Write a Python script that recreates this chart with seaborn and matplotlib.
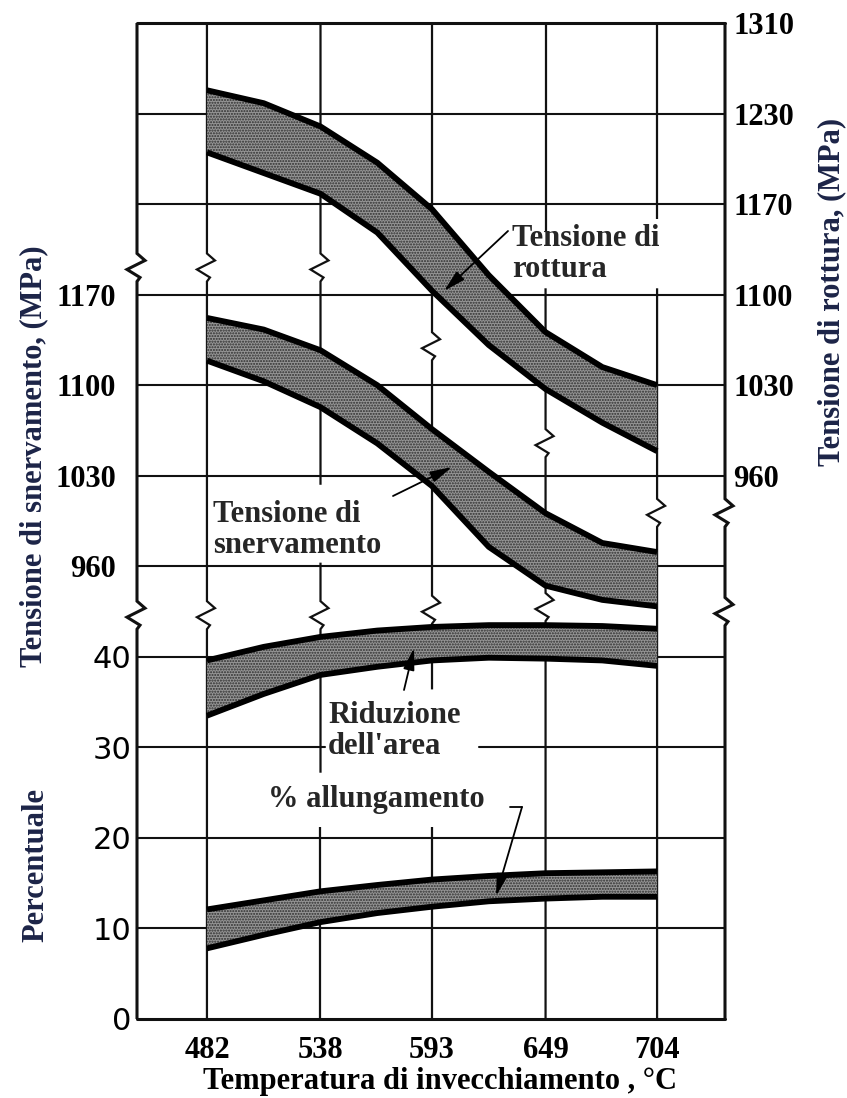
import numpy as np
import pandas as pd
import matplotlib
matplotlib.use("Agg")
import matplotlib.pyplot as plt
import seaborn as sns

# ---------------- data ----------------
temperature = [482, 510, 538, 566, 593, 621, 649, 677, 704]          # °C
rottura_sup = [1258, 1248, 1230, 1202, 1166, 1115, 1071, 1044, 1030]  # MPa (right axis)
rottura_inf = [1210, 1194, 1178, 1148, 1103, 1061, 1027, 1001, 979]
snerv_sup = [1152, 1143, 1127, 1100, 1066, 1033, 1001, 978, 971]      # MPa (left axis)
snerv_inf = [1119, 1103, 1083, 1055, 1022, 975, 945, 934, 929]
riduzione_sup = [39.6, 41.1, 42.2, 42.9, 43.3, 43.5, 43.5, 43.4, 43.1]  # %
riduzione_inf = [33.5, 35.9, 38.0, 38.9, 39.6, 39.9, 39.8, 39.6, 39.0]
allung_sup = [12.1, 13.1, 14.1, 14.8, 15.4, 15.8, 16.1, 16.2, 16.3]    # %
allung_inf = [7.8, 9.3, 10.7, 11.7, 12.4, 13.0, 13.3, 13.5, 13.5]

x_ticks = [482, 538, 593, 649, 704]
pct_ticks = [0, 10, 20, 30, 40]
snerv_ticks = [960, 1030, 1100, 1170]
rottura_ticks = [960, 1030, 1100, 1170, 1240, 1310]
rottura_labels = ["960", "1030", "1100", "1170", "1230", "1310"]

# ---------------- style ----------------
sns.set_theme(style="white")
plt.rcParams["font.family"] = ["Liberation Serif", "DejaVu Serif"]
plt.rcParams["hatch.linewidth"] = 1.0

W, H = 847, 1098
fig = plt.figure(figsize=(W / 100, H / 100), dpi=100)
fig.patch.set_facecolor("white")

L_px, R_px, T_px, B_px = 137, 725, 23, 1019
ax = fig.add_axes([L_px / W, 1 - B_px / H, (R_px - L_px) / W, (B_px - T_px) / H])
XMIN, XMAX = 447.5, 737.5
PMIN, PMAX = 0, 110
ax.set_xlim(XMIN, XMAX)
ax.set_ylim(PMIN, PMAX)

ax_ys = ax.twinx()
ax_ys.set_ylim(610, 1380)
ax_ts = ax.twinx()
ax_ts.set_ylim(540, 1310)

for a in (ax, ax_ys, ax_ts):
    for s in a.spines.values():
        s.set_visible(False)
    a.grid(False)
    a.set_facecolor("none")

# pixel -> data helpers (for decoration only)
sx = (XMAX - XMIN) / (R_px - L_px)
sy = (PMAX - PMIN) / (B_px - T_px)

def px2d(xp, yp):
    return XMIN + (xp - L_px) * sx, PMIN + (B_px - yp) * sy

INK = "#111111"
ZIG = [(0, -14), (3, -10), (-10, -2), (8, 7), (0, 14)]  # px, upward positive

def vline(x, segs, zigs, lw):
    for (y0, y1) in segs:
        pts = [(x, y0)]
        for yb in sorted(zigs):
            if y0 < yb < y1:
                for dx, dy in ZIG:
                    pts.append((x + dx * sx, yb + dy * sy))
        pts.append((x, y1))
        xs, ys = zip(*pts)
        ax.plot(xs, ys, color=INK, lw=lw, solid_capstyle="butt",
                solid_joinstyle="miter", clip_on=False, zorder=1)

# horizontal grid lines (12 equally spaced rows)
for lev in range(0, 111, 10):
    lw = 2.2 if lev in (0, 110) else 1.5
    if lev == 30:
        ax.plot([XMIN, 540], [lev, lev], color=INK, lw=lw, zorder=1, clip_on=False)
        ax.plot([616, XMAX], [lev, lev], color=INK, lw=lw, zorder=1, clip_on=False)
    else:
        ax.plot([XMIN, XMAX], [lev, lev], color=INK, lw=lw, zorder=1, clip_on=False)

# vertical lines with breaks
vline(XMIN, [(0, 110)], [44.6, 83.0], 2.2)
vline(482, [(0, 110)], [44.6, 83.0], 1.6)
vline(538, [(0, 21.2), (27.2, 50.4), (59.0, 110)], [44.6, 83.0], 1.6)
vline(593, [(0, 21.2), (36.4, 110)], [45.2, 74.3], 1.6)
vline(649, [(0, 80.7), (86.9, 110)], [45.5, 63.6], 1.6)
vline(704, [(0, 80.7), (88.3, 110)], [55.9], 1.6)
vline(XMAX, [(0, 110)], [45.0, 55.9], 2.2)

# ---------------- bands ----------------
FILL = dict(facecolor="#959595", edgecolor="#2e2e2e", hatch="......", linewidth=0)

def band(a, lo, hi):
    a.fill_between(temperature, lo, hi, zorder=2, **FILL)
    for edge in (lo, hi):
        sns.lineplot(x=temperature, y=edge, ax=a, color="black", linewidth=4.2,
                     legend=False, zorder=3, solid_capstyle="butt",
                     solid_joinstyle="round")

band(ax, allung_inf, allung_sup)
band(ax, riduzione_inf, riduzione_sup)
band(ax_ys, snerv_inf, snerv_sup)
band(ax_ts, rottura_inf, rottura_sup)

ax.set_ylim(PMIN, PMAX)
ax_ys.set_ylim(610, 1380)
ax_ts.set_ylim(540, 1310)
ax.set_xlim(XMIN, XMAX)
for a in (ax, ax_ys, ax_ts):
    a.set_xlabel("")
    a.set_ylabel("")

# ---------------- ticks ----------------
SERIF = dict(fontfamily=["Liberation Serif", "DejaVu Serif"], fontweight="bold", fontsize=22)
ax.set_xticks(x_ticks)
ax.set_xticklabels([str(t) for t in x_ticks], **SERIF)
ax.tick_params(axis="x", length=0, pad=12, colors="black")

ax.set_yticks(pct_ticks)
ax.set_yticklabels([str(t) for t in pct_ticks], fontfamily="DejaVu Sans", fontsize=22)
ax.tick_params(axis="y", length=0, pad=4, colors="black")

ax_ys.yaxis.tick_left()
ax_ys.set_yticks(snerv_ticks)
ax_ys.set_yticklabels([str(t) for t in snerv_ticks], **SERIF)
ax_ys.tick_params(axis="y", length=0, pad=15, colors="black")

ax_ts.yaxis.tick_right()
ax_ts.set_yticks(rottura_ticks)
ax_ts.set_yticklabels(rottura_labels, **SERIF)
ax_ts.tick_params(axis="y", length=0, pad=6, colors="black")

# ---------------- axis titles ----------------
NAVY = "#1c2447"
def ftext(xp, yp, s, **kw):
    fig.text(xp / W, 1 - yp / H, s, ha="center", va="center", **SERIF, **kw)

ftext(440, 1082, "Temperatura di invecchiamento , °C", color="black")
ftext(34, 456, "Tensione di snervamento, (MPa)", rotation=90, color=NAVY)
ftext(36, 865, "Percentuale", rotation=90, color=NAVY)
ftext(832, 292, "Tensione di rottura, (MPa)", rotation=90, color=NAVY)

# ---------------- annotations ----------------
T = ax.transData
def label(xp, yp, s):
    x, y = px2d(xp, yp)
    ax_ts.text(x, y, s, transform=T, ha="left", va="center", linespacing=1.05,
               zorder=6, **SERIF)

label(512, 254, "Tensione di\nrottura")
label(213, 530, "Tensione di\nsnervamento")
label(328, 731, "Riduzione\ndell'area")
label(268, 800, "% allungamento")

ARW = dict(arrowstyle="-|>,head_length=1.1,head_width=0.28", color="black",
           lw=1.3, shrinkA=0, shrinkB=0)
def arrow(p_from, p_to):
    ax_ts.annotate("", xy=px2d(*p_to), xytext=px2d(*p_from),
                   xycoords=T, textcoords=T, arrowprops=ARW, zorder=7)

arrow((508, 231), (444, 291))
arrow((393, 496), (452, 467))
arrow((404, 690), (414, 648))
xa, ya = zip(px2d(510, 807), px2d(522, 807))
ax_ts.plot(xa, ya, color="black", lw=1.3, transform=T, zorder=7)
arrow((522, 807), (496, 896))

fig.savefig("out.png", dpi=100, facecolor="white")
